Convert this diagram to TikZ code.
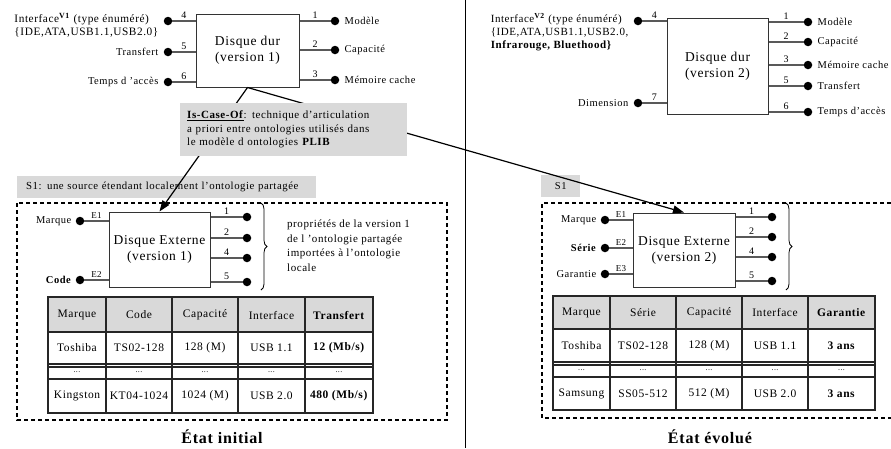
\documentclass[tikz,border=0pt]{standalone}
\usepackage{fontspec}
\setmainfont[LetterSpace=5]{Liberation Serif}
\usetikzlibrary{positioning,decorations.pathreplacing,arrows.meta}

\definecolor{boxgray}{RGB}{217,217,217}

\tikzset{
  concept/.style={draw=black!80,line width=1pt,fill=white,align=center,inner sep=0pt,font=\fontsize{13.5}{16}\selectfont},
  pindot/.style={circle,fill=black,inner sep=0pt,minimum size=8.5pt},
  pinline/.style={draw=black!65,line width=1.1pt},
  pinnum/.style={font=\fontsize{10}{10}\selectfont,inner sep=1.5pt,above},
  pintext/.style={font=\fontsize{10.5}{13}\selectfont,inner sep=1pt},
  graybox/.style={fill=boxgray,inner sep=0pt},
  cell/.style={font=\fontsize{11.5}{11.5}\selectfont,inner sep=0pt},
  tablerule/.style={draw=black!85,line width=1.2pt},
  relation/.style={line width=1.2pt,-{Triangle[length=11pt,width=8pt]}},
  zone/.style={line width=1.2pt,dash pattern=on 4pt off 3pt},
  etat/.style={font=\fontsize{16}{16}\selectfont\bfseries}
}

\begin{document}
\begin{tikzpicture}[x=1pt,y=-1pt]
\useasboundingbox (0,0) rectangle (891,448);

% separation
\draw[line width=1pt] (465,0) -- (465,448);

% ---------- etat initial ----------
\node[concept,minimum width=103,minimum height=73] (dd1) at (247.5,50.5) {Disque dur\\(version 1)};
\foreach \nm/\y in {4/21,5/52,6/82}{
  \node[pindot] (d1l\nm) at (168,\y) {};
  \draw[pinline] (d1l\nm) -- (d1l\nm -| dd1.west) node[pinnum,midway] {\nm};
}
\node[pintext,anchor=north east,align=left,font=\fontsize{11.3}{13}\selectfont] (itf1) at ([xshift=-4,yshift=9]d1l4.west) {Interface\textsuperscript{\textbf{V1}} (type énuméré)\\\{IDE,ATA,USB1.1,USB2.0\}};
\node[pintext,left=4pt of d1l5] (tr1) {Transfert};
\node[pintext,left=4pt of d1l6] (tps1) {Temps d ’accès};
\foreach \nm/\y/\lbl in {1/21/Modèle,2/50/Capacité,3/80/Mémoire cache}{
  \node[pindot] (d1r\nm) at (335,\y) {};
  \draw[pinline] (d1r\nm) -- (d1r\nm -| dd1.east) node[pinnum,midway] {\nm};
  \node[pintext,right=4pt of d1r\nm] {\lbl};
}

\node[graybox,anchor=north west,minimum width=299,minimum height=22,text width=281,align=left,inner xsep=9,font=\fontsize{10.8}{12}\selectfont] (s1a) at (17,176) {S1: une source étendant localement l’ontologie partagée};
\draw[zone] (17,203) rectangle (447,420);

\node[concept,minimum width=101,minimum height=75] (de1) at (159.5,249.5) {Disque Externe\\(version 1)};
\foreach \nm/\y/\lbl in {1/221/Marque,2/280/\textbf{Code}}{
  \node[pindot] (e1l\nm) at (80,\y) {};
  \draw[pinline] (e1l\nm) -- (e1l\nm -| de1.west) node[pinnum,midway,font=\fontsize{9}{9}\selectfont] {E\nm};
  \node[pintext,left=3pt of e1l\nm] {\lbl};
}
\foreach \nm/\y in {1/217,2/238,4/258,5/282}{
  \node[pindot] (e1r\nm) at (247,\y) {};
  \draw[pinline] (e1r\nm) -- (e1r\nm -| de1.east) node[pinnum,midway] {\nm};
}
\draw[line width=0.8pt,decorate,decoration={brace,amplitude=6pt}] (261,203) -- (261,290);
\node[anchor=north west,align=left,inner sep=0pt,font=\fontsize{11}{14.5}\selectfont] (prop) at (287,220) {propriétés de la version 1\\de l ’ontologie partagée\\importées à l’ontologie\\locale};

% table etat initial
\fill[boxgray] (48,297) rectangle (373,332);
\draw[tablerule] (48,297) rectangle (373,413);
\foreach \y in {332,364,367,379} \draw[tablerule] (48,\y) -- (373,\y);
\foreach \x in {106,172,238,305} \draw[tablerule] (\x,297) -- (\x,413);
\foreach \cx/\txt [count=\i] in {77/Marque,139/Code,205/Capacité,271.5/Interface,339/\textbf{Transfert}}
  \node[cell] (tah\i) at (\cx,315) {\txt};
\foreach \cx/\txt [count=\i] in {77/Toshiba,139/TS02-128,205/128 (M),271.5/USB 1.1,339/{\textbf{12 (Mb/s)}}}
  \node[cell] (taa\i) at (\cx,348) {\txt};
\foreach \cx [count=\i] in {77,139,205,271.5,339}
  \node[cell,font=\fontsize{8}{8}\selectfont] (tab\i) at (\cx,372) {...};
\foreach \cx/\txt [count=\i] in {77/Kingston,139/KT04-1024,205/1024 (M),271.5/USB 2.0,339/{\textbf{480 (Mb/s)}}}
  \node[cell] (tac\i) at (\cx,396) {\txt};

\node[etat,anchor=base] (etat1) at (222,443) {État initial};

% ---------- etat evolue ----------
\node[concept,minimum width=101,minimum height=96] (dd2) at (717.5,66) {Disque dur\\(version 2)};
\foreach \nm/\y in {4/21,7/103}{
  \node[pindot] (d2l\nm) at (638,\y) {};
  \draw[pinline] (d2l\nm) -- (d2l\nm -| dd2.west) node[pinnum,midway] {\nm};
}
\node[pintext,anchor=north east,align=left,font=\fontsize{11}{13}\selectfont] (itf2) at ([xshift=-4,yshift=9]d2l4.west) {Interface\textsuperscript{\textbf{V2}} (type énuméré)\\\{IDE,ATA,USB1.1,USB2.0,\\\textbf{Infrarouge, Bluethood\}}};
\node[pintext,left=4pt of d2l7] (dim2) {Dimension};
\foreach \nm/\y/\lbl in {1/22/Modèle,2/42/Capacité,3/65/Mémoire cache,5/86/Transfert,6/112/Temps d’accès}{
  \node[pindot] (d2r\nm) at (808,\y) {};
  \draw[pinline] (d2r\nm) -- (d2r\nm -| dd2.east) node[pinnum,midway] {\nm};
  \node[pintext,right=4pt of d2r\nm] {\lbl};
}

\node[graybox,anchor=north west,minimum width=39,minimum height=22,font=\fontsize{10.5}{12}\selectfont] (s1b) at (541,175) {S1};
\draw[zone] (891,203) -- (542,203) -- (542,418) -- (891,418);

\node[concept,minimum width=102,minimum height=74] (de2) at (684,250) {Disque Externe\\(version 2)};
\foreach \nm/\y/\lbl in {1/220/Marque,2/248/\textbf{Série},3/274/Garantie}{
  \node[pindot] (e2l\nm) at (605,\y) {};
  \draw[pinline] (e2l\nm) -- (e2l\nm -| de2.west) node[pinnum,midway,font=\fontsize{9}{9}\selectfont] {E\nm};
  \node[pintext,left=3pt of e2l\nm] {\lbl};
}
\foreach \nm/\y in {1/217,2/237,4/257,5/281}{
  \node[pindot] (e2r\nm) at (772,\y) {};
  \draw[pinline] (e2r\nm) -- (e2r\nm -| de2.east) node[pinnum,midway] {\nm};
}
\draw[line width=0.8pt,decorate,decoration={brace,amplitude=6pt}] (786,203) -- (786,290);

% table etat evolue
\fill[boxgray] (553,296) rectangle (875,329);
\draw[tablerule] (553,296) rectangle (875,410);
\foreach \y in {329,362,365,377} \draw[tablerule] (553,\y) -- (875,\y);
\foreach \x in {610,676,742,808} \draw[tablerule] (\x,296) -- (\x,410);
\foreach \cx/\txt [count=\i] in {581.5/Marque,643/Série,709/Capacité,775/Interface,841.5/\textbf{Garantie}}
  \node[cell] (tbh\i) at (\cx,312.5) {\txt};
\foreach \cx/\txt [count=\i] in {581.5/Toshiba,643/TS02-128,709/128 (M),775/USB 1.1,841.5/\textbf{3 ans}}
  \node[cell] (tba\i) at (\cx,345.5) {\txt};
\foreach \cx [count=\i] in {581.5,643,709,775,841.5}
  \node[cell,font=\fontsize{8}{8}\selectfont] (tbb\i) at (\cx,370) {...};
\foreach \cx/\txt [count=\i] in {581.5/Samsung,643/SS05-512,709/512 (M),775/USB 2.0,841.5/\textbf{3 ans}}
  \node[cell] (tbc\i) at (\cx,393.5) {\txt};

\node[etat,anchor=base] (etat2) at (710,443) {État évolué};

% ---------- Is-Case-Of ----------
\draw[relation] (dd1.south) -- (de1.north);
\draw[relation] (dd1.south) -- (de2.north);
\node[graybox,anchor=north west,minimum width=227,minimum height=53,text width=213,align=left,inner xsep=7,font=\fontsize{11}{13.5}\selectfont] (isc) at (180,103) {\underline{\textbf{Is-Case-Of}}: technique d’articulation\\a priori entre ontologies utilisés dans\\le modèle d ontologies \textbf{PLIB}};
\end{tikzpicture}
\end{document}
